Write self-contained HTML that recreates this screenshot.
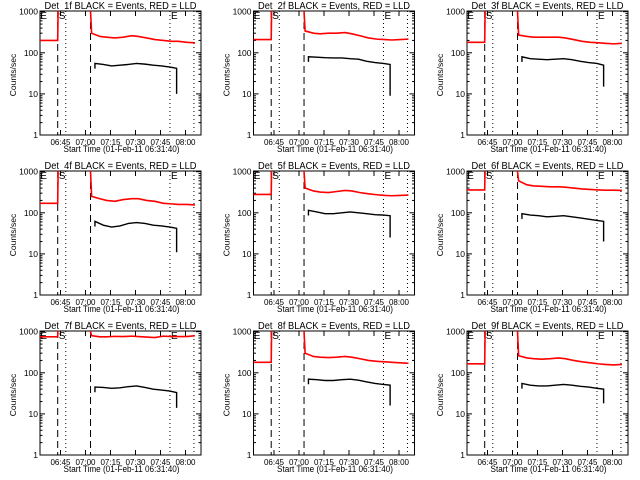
<!DOCTYPE html>
<html><head><meta charset="utf-8">
<style>
html,body{margin:0;padding:0;background:#fff;}
svg{display:block;font-family:"Liberation Sans",sans-serif;}
</style></head>
<body>
<svg id="c" width="640" height="480" viewBox="0 0 640 480"></svg>
<script>
const detNames = ["Det_1f","Det_2f","Det_3f","Det_4f","Det_5f","Det_6f","Det_7f","Det_8f","Det_9f"];
const redPre = [200,210,180,170,280,360,750,180,165];
const redTimes = [32,37,41,46,51,56,60,65,70,75,80,84,89,94];
const redPost = [
 [300,250,240,230,240,260,250,230,210,200,190,190,180,175],
 [340,300,290,300,300,310,290,260,230,215,210,205,210,215],
 [270,250,240,240,240,240,230,210,190,180,175,170,165,170],
 [250,220,200,190,210,220,220,200,190,170,165,160,160,155],
 [400,340,320,310,330,350,340,310,290,275,265,260,265,270],
 [600,480,450,440,430,430,420,400,380,370,360,355,355,350],
 [800,750,750,770,760,780,760,740,720,780,760,760,760,800],
 [300,250,240,235,240,250,240,220,200,190,185,180,175,170],
 [260,230,220,215,220,230,220,200,185,175,165,160,155,160]
];
const blackTimes = [34,39,44,49,54,59,64,69,74,79,83];
const blackPost = [
 [55,52,48,50,52,55,53,50,48,45,42],
 [80,78,76,75,75,72,70,62,58,55,52],
 [80,72,70,68,70,72,68,62,58,55,50],
 [62,50,45,48,55,58,55,50,48,45,42],
 [115,105,95,95,100,105,100,95,90,88,85],
 [95,88,85,80,82,85,80,75,70,65,62],
 [45,44,42,43,46,48,44,40,38,36,33],
 [70,68,65,65,68,70,66,60,55,52,50],
 [55,50,48,48,50,52,50,47,45,42,40]
];
const blackEnd = [10,9,15,11,25,20,14,16,18];
const xTickLabels = ["06:45","07:00","07:15","07:30","07:45","08:00"];
const xTickTimes = [13.33,28.33,43.33,58.33,73.33,88.33];
const yTickLabels = ["1","10","100","1000"];
const yTickVals = [1,10,100,1000];
const dashedTimes = [11.65,31.35];
const dottedTimes = [16.5,79,93.4];

const NS="http://www.w3.org/2000/svg";
const svg=document.getElementById('c');
function mk(tag,attrs,parent){const e=document.createElementNS(NS,tag);for(const k in attrs)e.setAttribute(k,attrs[k]);parent.appendChild(e);return e;}

for(let p=0;p<9;p++){
  const col=p%3,row=Math.floor(p/3);
  const ox=col*213.5, oy=row*160;
  const L=ox+40,R=ox+201,T=oy+11,B=oy+135;
  const xS=t=>ox+60.5+(t-13.33)*25/15;
  const yS=v=>B-(Math.log10(Math.max(v,1)))*41.1;
  const g=mk('g',{},svg);
  
  
  const clipId='clip'+p;
  const cp=mk('clipPath',{id:clipId},g);
  mk('rect',{x:L,y:T,width:R-L,height:B-T},cp);
  // title
  const tt=mk('text',{x:(L+R)/2,y:oy+9,'font-size':10,'text-anchor':'middle',textLength:152,lengthAdjust:'spacingAndGlyphs'},g);
  tt.textContent=detNames[p]+" BLACK = Events, RED = LLD";
  
  
  // y label
  const yl=mk('text',{x:0,y:0,'font-size':8.5,'text-anchor':'middle',transform:`translate(${ox+16},${oy+75}) rotate(-90)`},g);
  yl.textContent="Counts/sec";
  
  
  // x title
  const xl=mk('text',{x:(L+R)/2+1,y:oy+152,'font-size':9,'text-anchor':'middle',textLength:116,lengthAdjust:'spacingAndGlyphs'},g);
  xl.textContent="Start Time (01-Feb-11 06:31:40)";
  
  
  // box
  const box=mk('rect',{x:L,y:T,width:R-L,height:B-T,fill:'none',stroke:'#000','stroke-width':1},g);
  
  
  // y ticks
  for(let i=0;i<yTickVals.length;i++){
    const y=yS(yTickVals[i]);
    mk('line',{x1:L,x2:L+5,y1:y,y2:y,stroke:'#000'},g);
    mk('line',{x1:R,x2:R-5,y1:y,y2:y,stroke:'#000'},g);
    const lb=mk('text',{x:L-2,y:y+3,'font-size':8.5,'text-anchor':'end'},g);
    lb.textContent=yTickLabels[i];
    
    
    if(i<yTickVals.length-1){
      for(let m=2;m<10;m++){
        const ym=yS(yTickVals[i]*m);
        mk('line',{x1:L,x2:L+2.5,y1:ym,y2:ym,stroke:'#000'},g);
        mk('line',{x1:R,x2:R-2.5,y1:ym,y2:ym,stroke:'#000'},g);
      }
    }
  }
  // x ticks
  for(let i=0;i<xTickTimes.length;i++){
    const x=xS(xTickTimes[i]);
    mk('line',{x1:x,x2:x,y1:B,y2:B-5,stroke:'#000'},g);
    mk('line',{x1:x,x2:x,y1:T,y2:T+5,stroke:'#000'},g);
    const lb=mk('text',{x:x,y:oy+145,'font-size':8,'text-anchor':'middle'},g);
    lb.textContent=xTickLabels[i];
    
    
  }
  // event lines
  dashedTimes.forEach(t=>{const x=xS(t);const l=mk('line',{x1:x,x2:x,y1:T,y2:B,stroke:'#000','stroke-dasharray':'7,4'},g);
    });
  dottedTimes.forEach(t=>{const x=xS(t);const l=mk('line',{x1:x,x2:x,y1:T,y2:B,stroke:'#000','stroke-dasharray':'1,3'},g);
    });
  // labels E S E
  [[xS(0)+2,'E'],[xS(dashedTimes[0])+1,'S'],[xS(dottedTimes[1])+1,'E']].forEach(a=>{
    const e=mk('text',{x:a[0],y:T+8,'font-size':10},g);e.textContent=a[1];
    });
  // red
  let d=`M${L} ${yS(redPre[p])} L${xS(dashedTimes[0])} ${yS(redPre[p])} L${xS(dashedTimes[0]+0.4)} ${yS(3000)} L${xS(dashedTimes[1])} ${yS(3000)} L${xS(dashedTimes[1])} ${yS(1000)}`;
  for(let i=0;i<redTimes.length;i++){d+=` L${xS(redTimes[i])} ${yS(redPost[p][i])}`;}
  const rl=mk('path',{d:d,fill:'none',stroke:'#ff0000','stroke-width':1.6,'clip-path':`url(#${clipId})`},g);
  
  
  // black
  let bd=`M${xS(blackTimes[0])} ${yS(blackPost[p][0]*0.75)}`;
  for(let i=0;i<blackTimes.length;i++){bd+=` L${xS(blackTimes[i])} ${yS(blackPost[p][i])}`;}
  const bt=blackTimes[blackTimes.length-1];
  bd+=` L${xS(bt)} ${yS(blackEnd[p])}`;
  const bl=mk('path',{d:bd,fill:'none',stroke:'#000','stroke-width':1.4,'clip-path':`url(#${clipId})`},g);
  
  
}
</script>
</body></html>
